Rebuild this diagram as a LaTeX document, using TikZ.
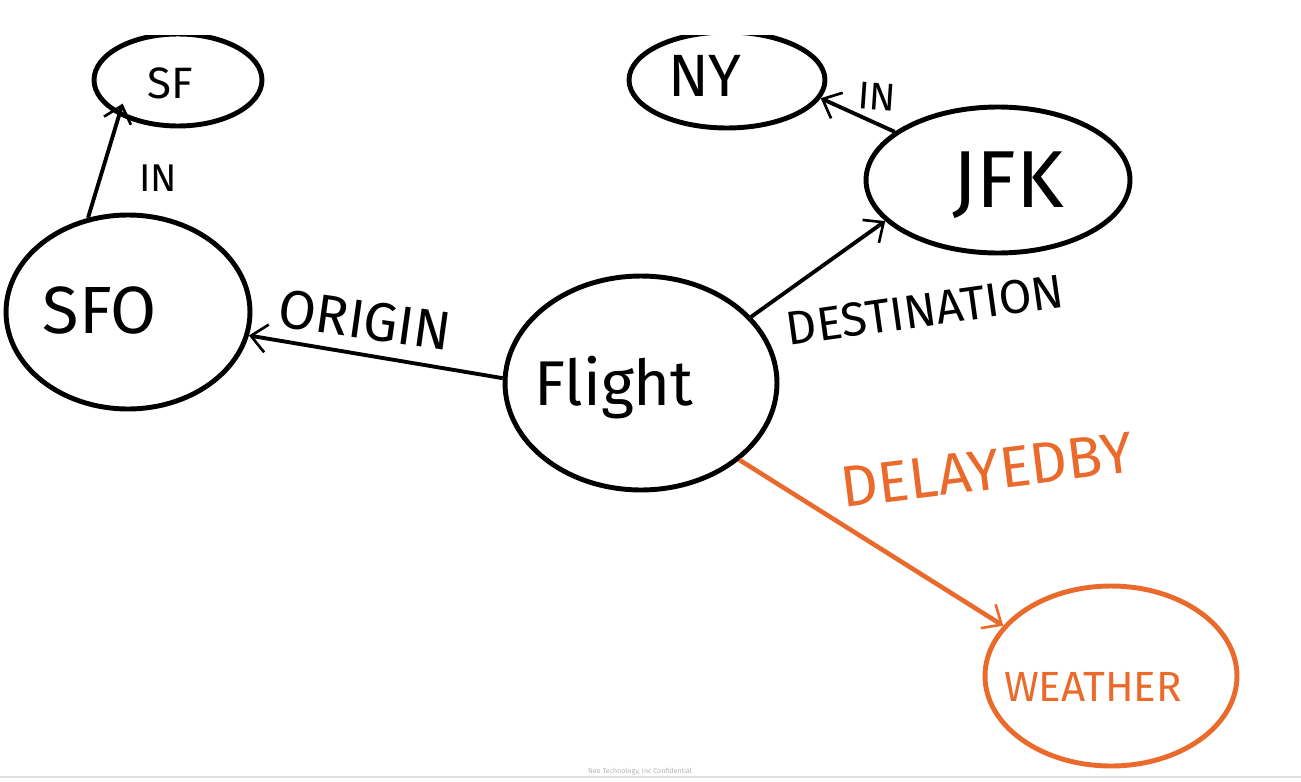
\documentclass[tikz,border=0pt]{standalone}
\usepackage{fontspec}
\setmainfont{Fira Sans}
\usetikzlibrary{shapes.geometric,arrows.meta}
\definecolor{delayorange}{RGB}{234,106,44}
\begin{document}
\begin{tikzpicture}[
      x=0.02cm, y=-0.02cm,
      >={Straight Barb[length=9pt,width=16pt,line width=1.5pt]},
      place/.style={draw, ellipse, line width=2.8pt, inner sep=0pt},
      rel/.style={->, line width=2.2pt},
      every node/.style={font=\fontsize{24}{24}\selectfont}
    ]
    \useasboundingbox (0,0) rectangle (1301,781);

    \begin{scope}
    \clip (0,35) rectangle (1301,781);

    % Nodos
    \node[place, minimum width=3.36cm, minimum height=1.84cm] (sf) at (178,80) {};
    \node[place, minimum width=3.92cm, minimum height=1.92cm] (ny) at (727,80) {};
    \node[place, minimum width=5.28cm, minimum height=2.92cm] (jfk) at (998,180) {};
    \node[place, minimum width=4.88cm, minimum height=3.88cm] (sfo) at (128,312) {};
    \node[place, minimum width=5.44cm, minimum height=4.28cm] (flight) at (641,383) {};
    \node[place, draw=delayorange, minimum width=5.04cm, minimum height=3.6cm] (weather) at (1111,676) {};

    % Textos
    \node[font=\fontsize{25}{25}\selectfont] (sftxt) at (170,83) {SF};
    \node[font=\fontsize{34}{34}\selectfont] (nytxt) at (705,76) {NY};
    \node[font=\fontsize{46}{46}\selectfont] (jfktxt) at (1008,185) {JFK};
    \node[font=\fontsize{38}{38}\selectfont] (sfotxt) at (100,310) {SFO};
    \node[font=\fontsize{36}{36}\selectfont] (flighttxt) at (614,388) {Flight};
    \node[text=delayorange] (weathertxt) at (1093,687) {WEATHER};
    \end{scope}

    % Relaciones
    \draw[rel, shorten >=-7pt] (sfo.113) -- (sf.211);
    \node[font=\fontsize{22}{22}\selectfont] (inone) at (158,178) {IN};
    \draw[rel] (flight.178) -- (sfo.349);
    \node[rotate=-8, font=\fontsize{31}{31}\selectfont] (originlbl) at (365,320) {ORIGIN};
    \draw[rel] (flight.31) -- (jfk.200);
    \node[rotate=8, font=\fontsize{27}{27}\selectfont] (destlbl) at (925,310) {DESTINATION};
    \draw[rel] (jfk.155) -- (ny.349);
    \node[rotate=-4, font=\fontsize{22}{22}\selectfont] (intwo) at (877,97) {IN};
    \draw[rel, draw=delayorange, line width=2.6pt] (flight.322) -- (weather.155);
    \node[text=delayorange, rotate=7, font=\fontsize{33}{33}\selectfont] (delaylbl) at (987,470) {DELAYEDBY};

    % Pie
    \draw[black!12, line width=0.6pt] (0,777) -- (1301,777);
    \node[text=black!30, font=\fontsize{4}{4}\selectfont] (footer) at (640,771) {Neo Technology, Inc Confidential};

  \end{tikzpicture}
\end{document}
